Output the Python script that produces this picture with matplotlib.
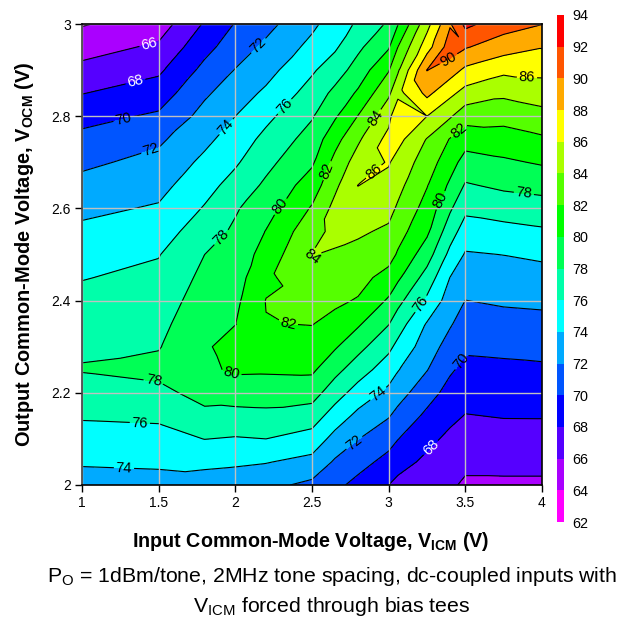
import numpy as np
import matplotlib
matplotlib.use('Agg')
import matplotlib.pyplot as plt
import matplotlib.tri as mtri

plt.rcParams['font.family'] = ['Liberation Sans', 'DejaVu Sans']
plt.rcParams['mathtext.fontset'] = 'custom'
plt.rcParams['mathtext.rm'] = 'Liberation Sans'
plt.rcParams['mathtext.bf'] = 'Liberation Sans:bold'

# grid
x_cols = [1, 1.5, 1.8, 2, 2.2, 2.5, 2.65, 2.8, 3, 3.06, 3.25, 3.4, 3.5, 3.75, 4]
y_rows = [2.0, 2.05, 2.1, 2.15, 2.2, 2.25, 2.3, 2.35, 2.4, 2.45, 2.5,
          2.55, 2.6, 2.65, 2.7, 2.75, 2.8, 2.85, 2.9, 2.95, 3.0]

# IM3 per column, bottom row first
z_100 = [73.2, 74.2, 75.2, 76.2, 77.1, 78.12, 77.72, 77.06, 76.5, 75.92, 75.17, 74.4, 73.56, 72.6, 71.6, 70.55, 69.33, 67.94, 66.55, 65.2, 63.85]
z_150 = [73.32, 74.32, 75.32, 76.35, 77.47, 78.57, 77.88, 77.42, 76.93, 76.44, 75.91, 75.06, 74.2, 73.39, 72.6, 71.65, 70.3, 68.97, 67.65, 66.32, 65.0]
z_180 = [73.0, 74.5, 76.03, 77.5, 78.7, 79.6, 79.8, 79.5, 79.0, 78.5, 78.0, 77.08, 76.16, 75.29, 74.43, 73.55, 72.66, 71.7, 70.55, 69.38, 68.2]
z_200 = [72.8, 74.33, 75.85, 77.4, 78.9, 80.3, 80.6, 79.96, 79.56, 79.15, 78.74, 78.33, 77.79, 76.74, 75.74, 74.87, 74.0, 73.04, 72.08, 71.04, 70.1]
z_220 = [72.5, 74.1, 76.0, 77.5, 78.95, 80.25, 81.1, 81.95, 82.05, 81.56, 80.8, 80.07, 79.2, 78.35, 77.45, 76.55, 75.5, 74.35, 73.3, 72.4, 71.4]
z_250 = [71.55, 73.4, 75.2, 77.0, 78.85, 80.33, 81.2, 82.07, 82.76, 83.45, 84.05, 83.3, 82.2, 80.93, 79.72, 78.8, 77.83, 76.8, 75.74, 74.53, 73.6]
z_265 = [70.5, 71.75, 73.33, 75.09, 76.88, 78.61, 80.21, 81.4, 82.36, 83.08, 83.8, 84.52, 84.6, 83.58, 82.58, 81.31, 79.76, 78.5, 77.05, 75.72, 74.9]
z_280 = [69.4, 70.74, 72.05, 73.5, 75.18, 76.93, 78.63, 80.28, 81.85, 82.69, 83.45, 84.27, 85.25, 86.03, 84.9, 83.68, 82.06, 80.29, 78.83, 77.6, 76.3]
z_300 = [68.0, 69.35, 70.73, 72.14, 73.53, 74.96, 76.46, 78.1, 79.74, 81.27, 82.8, 83.69, 84.57, 85.37, 86.16, 86.65, 85.33, 83.65, 81.87, 79.8, 78.3]
z_306 = [67.5, 68.7, 70.05, 71.42, 72.78, 74.11, 75.48, 76.95, 78.59, 80.34, 81.77, 82.8, 83.75, 84.56, 85.3, 86.6, 87.8, 85.36, 83.75, 82.0, 79.9]
z_325 = [66.9, 67.6, 68.48, 69.58, 70.8, 72.07, 72.96, 73.86, 75.62, 77.2, 78.9, 80.37, 81.23, 82.1, 83.0, 83.9, 86.0, 88.5, 90.05, 87.14, 85.3]
z_340 = [66.3, 66.97, 67.6, 68.43, 69.33, 70.25, 71.24, 72.2, 73.08, 73.98, 75.48, 76.9, 78.28, 79.67, 80.83, 81.9, 84.22, 86.49, 88.93, 91.0, 89.8]
z_350 = [65.7, 66.44, 67.19, 67.93, 68.7, 69.5, 70.3, 71.14, 71.98, 72.9, 73.82, 75.08, 76.44, 77.81, 79.23, 80.8, 82.8, 85.3, 87.59, 90.16, 92.5]
z_375 = [65.7, 66.48, 67.3, 68.09, 68.84, 69.6, 70.42, 71.34, 72.25, 73.13, 74.03, 75.38, 76.86, 78.37, 79.7, 81.13, 82.67, 84.4, 86.45, 88.9, 90.9]
z_400 = [65.7, 66.48, 67.29, 68.1, 68.9, 69.7, 70.56, 71.46, 72.37, 73.3, 74.33, 75.72, 77.16, 78.66, 80.2, 81.7, 83.33, 84.95, 86.54, 88.1, 90.05]

levels = [62, 64, 66, 68, 70, 72, 74, 76, 78, 80, 82, 84, 86, 88, 90, 92, 94]
band_colors = ['#ff00ff', '#aa00ff', '#5500ff', '#0000ff', '#0055ff', '#00aaff',
               '#00ffff', '#00ffaa', '#00ff55', '#00ff00', '#55ff00', '#aaff00',
               '#ffff00', '#ffaa00', '#ff5500', '#ff0000']

x_ticks = [1, 1.5, 2, 2.5, 3, 3.5, 4]
y_ticks = [2, 2.2, 2.4, 2.6, 2.8, 3]
x_tick_labels = ['1', '1.5', '2', '2.5', '3', '3.5', '4']
y_tick_labels = ['2', '2.2', '2.4', '2.6', '2.8', '3']

# where the contour labels sit: x, y, colour
contour_labels = [
    (1.437, 2.959, 'white'), (1.346, 2.878, 'white'), (1.267, 2.798, 'black'),
    (1.45, 2.725, 'black'), (2.148, 2.954, 'black'), (1.926, 2.781, 'black'),
    (2.318, 2.822, 'black'), (1.9, 2.54, 'black'), (2.29, 2.605, 'black'),
    (2.59, 2.683, 'black'), (2.905, 2.798, 'black'), (2.468, 2.484, 'black'),
    (2.905, 2.679, 'black'), (3.387, 2.926, 'black'), (3.903, 2.894, 'black'),
    (3.453, 2.77, 'black'), (3.335, 2.618, 'black'), (3.883, 2.636, 'black'),
    (3.192, 2.397, 'black'), (2.924, 2.202, 'black'), (2.78, 2.09, 'black'),
    (3.472, 2.269, 'black'), (3.257, 2.087, 'white'), (2.344, 2.354, 'black'),
    (1.972, 2.239, 'black'), (1.47, 2.234, 'black'), (1.378, 2.139, 'black'),
    (1.274, 2.039, 'black'),
]

z = np.column_stack([z_100, z_150, z_180, z_200, z_220, z_250, z_265, z_280, z_300,
                     z_306, z_325, z_340, z_350, z_375, z_400])
X, Y = np.meshgrid(x_cols, y_rows)
nr, nc = z.shape

# split each cell along the diagonal with the smaller change, so ridges stay joined
triangles = []
for r in range(nr - 1):
    for c in range(nc - 1):
        a = r * nc + c
        b = a + 1
        d = a + nc
        e = d + 1
        if abs(z[r, c] - z[r + 1, c + 1]) <= abs(z[r, c + 1] - z[r + 1, c]):
            triangles += [[a, b, e], [a, e, d]]
        else:
            triangles += [[a, b, d], [b, e, d]]
tri = mtri.Triangulation(X.ravel(), Y.ravel(), triangles)

W, H = 627, 617
fig = plt.figure(figsize=(W / 100, H / 100), dpi=100)
ax = fig.add_axes([82 / W, (H - 485) / H, 460 / W, 461 / H])

cf = ax.tricontourf(tri, z.ravel(), levels=levels, colors=band_colors)
cs = ax.tricontour(tri, z.ravel(), levels=levels, colors='black', linewidths=0.8)

ax.set_xlim(1, 4)
ax.set_ylim(2, 3)
ax.set_xticks(x_ticks, x_tick_labels, fontsize=10)
ax.set_yticks(y_ticks, y_tick_labels, fontsize=10)
ax.tick_params(length=5, width=1, pad=3)
ax.grid(True, color='#c0c0c0', linewidth=1.0)
ax.set_axisbelow(False)
for s in ax.spines.values():
    s.set_linewidth(1.2)
    s.set_zorder(5)
ax.spines['left'].set_color('#404040')

label_xy = [(p[0], p[1]) for p in contour_labels]
texts = ax.clabel(cs, manual=label_xy, fmt='%d', inline=True, inline_spacing=2, fontsize=10.5)
for t, p in zip(texts, contour_labels):
    t.set_color(p[2])

ax.set_xlabel(r'Input Common-Mode Voltage, V$_{\mathbf{ICM}}$ (V)', fontsize=14.2, fontweight='bold')
ax.set_ylabel(r'Output Common-Mode Voltage, V$_{\mathbf{OCM}}$ (V)', fontsize=14.4, fontweight='bold')
ax.xaxis.set_label_coords(0.497, -0.098)
ax.yaxis.set_label_coords(-0.1, 0.5)

cax = fig.add_axes([557 / W, (H - 522) / H, 7 / W, 507 / H])
cb = fig.colorbar(cf, cax=cax, ticks=levels)
cb.ax.tick_params(length=0, labelsize=10.4, pad=6)
cb.outline.set_visible(False)

fig.text(332 / W, (H - 576) / H, r'P$_{\mathrm{O}}$ = 1dBm/tone, 2MHz tone spacing, dc-coupled inputs with',
         ha='center', va='center', fontsize=15.3)
fig.text(332 / W, (H - 607) / H, r'V$_{\mathrm{ICM}}$ forced through bias tees',
         ha='center', va='center', fontsize=15.3)

fig.savefig('out.png', dpi=100)
